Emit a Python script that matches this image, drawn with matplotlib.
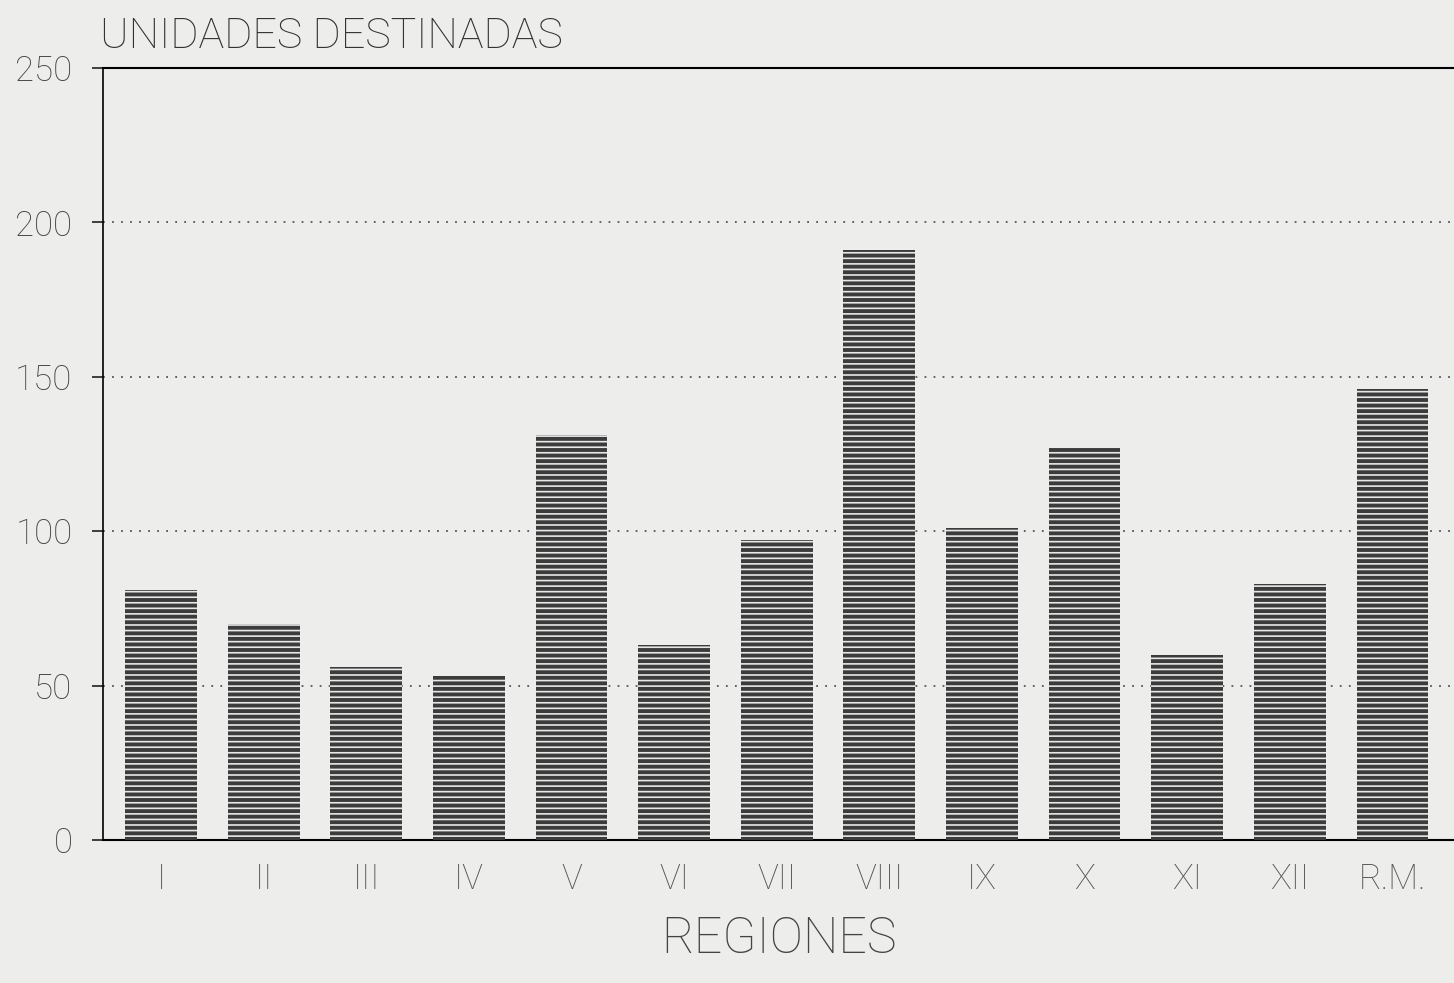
import matplotlib
matplotlib.use("Agg")
import matplotlib.pyplot as plt
from matplotlib import font_manager

regions = ["I", "II", "III", "IV", "V", "VI", "VII", "VIII", "IX", "X", "XI", "XII", "R.M."]
unidades = [81, 70, 56, 53, 131, 63, 97, 191, 101, 127, 60, 83, 146]
yticks = [0, 50, 100, 150, 200, 250]

names = {f.name for f in font_manager.fontManager.ttflist}
fam = "Roboto" if "Roboto" in names else "DejaVu Sans"
plt.rcParams['font.family'] = [fam, 'DejaVu Sans']
plt.rcParams['font.weight'] = 'light'
plt.rcParams['hatch.linewidth'] = 1.2
plt.rcParams['hatch.color'] = '#e8e8e8'

fig = plt.figure(figsize=(14.54, 9.83), dpi=100, facecolor='#ededeb')
ax = fig.add_axes([103/1454, 143/983, 1 - 103/1454, (840-68)/983])
ax.set_facecolor('#ededeb')

x = list(range(len(regions)))
ax.bar(x, unidades, width=0.70, color='#3c3c3c', edgecolor='#e8e8e8',
       linewidth=0, hatch='---', zorder=3)

ax.set_xlim(-0.565, 12.6)
ax.set_ylim(0, 250)
ax.set_yticks(yticks)
ax.set_yticklabels([str(t) for t in yticks], fontsize=25, color='#444444', fontweight='light')
ax.set_xticks(x)
ax.set_xticklabels(regions, fontsize=25, color='#555555', fontweight='light')
ax.tick_params(axis='x', length=0, pad=16)
ax.tick_params(axis='y', length=8, width=1.2, color='#222222', pad=14, direction='out')

for t in yticks[1:-1]:
    ax.axhline(t, color='#555555', linestyle=(0, (1, 4)), linewidth=1.3, zorder=1)

ax.spines['right'].set_visible(False)
ax.spines['top'].set_linewidth(1.5)
ax.spines['left'].set_linewidth(1.2)
ax.spines['bottom'].set_linewidth(1.5)

fig.text(100/1454, 1 - 36/983, "UNIDADES DESTINADAS", fontsize=31, color='#333333',
         va='center', ha='left', fontweight='light')
ax.set_xlabel("REGIONES", fontsize=36, color='#444444', labelpad=14, fontweight='light')

fig.savefig("out.png", dpi=100, facecolor=fig.get_facecolor())
